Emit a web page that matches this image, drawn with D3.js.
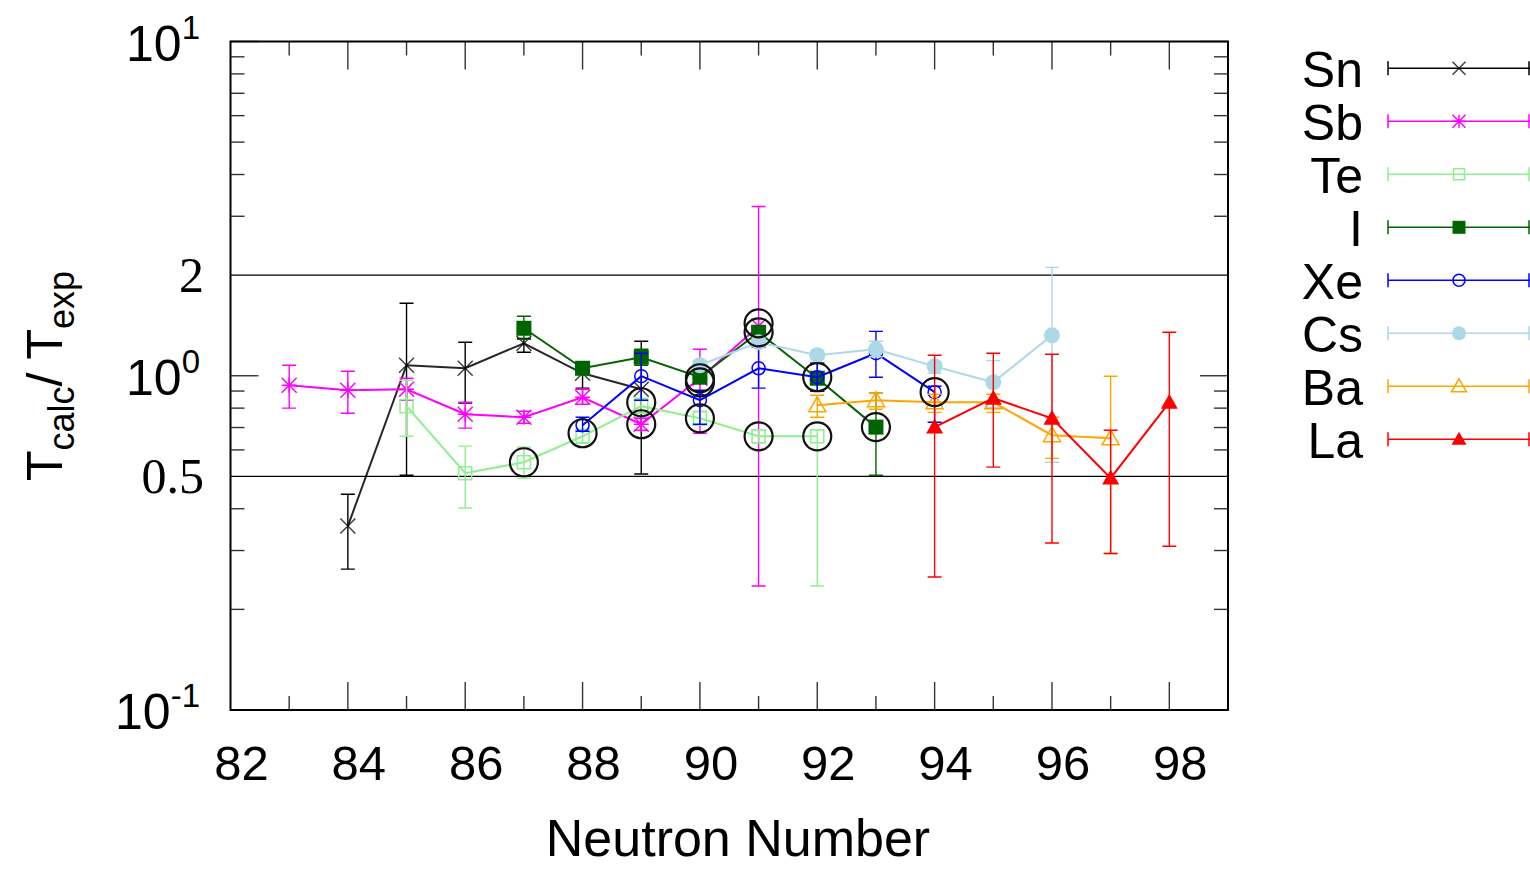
<!DOCTYPE html>
<html><head><meta charset="utf-8">
<script src="https://cdn.jsdelivr.net/npm/d3@7"></script>
<style>
html,body{margin:0;padding:0;background:#fff;}
svg{display:block;}
text{font-family:"Liberation Sans",Arial,sans-serif;fill:#000;}
</style></head><body>
<svg id="c" width="1530" height="869"></svg>
<script>
// ---------------- data ----------------
const elements = ["Sn","Sb","Te","I","Xe","Cs","Ba","La"];

const snN = [84,85,86,87,88,89];
const snRatio = [0.355,1.075,1.053,1.251,1.017,0.911];
const snLow   = [0.264,0.504,0.828,1.176,0.918,0.508];
const snHigh  = [0.442,1.647,1.260,1.294,1.053,1.268];

const sbN = [83,84,85,86,87,88,89,90,91];
const sbRatio = [0.937,0.905,0.911,0.767,0.751,0.862,0.716,0.983,1.406];
const sbLow   = [0.800,0.772,0.845,0.697,0.721,0.822,0.687,0.673,0.235];
const sbHigh  = [1.075,1.031,0.983,0.833,0.783,0.911,0.746,1.200,3.210];

const teN = [85,86,87,88,89,90,91,92];
const teRatio = [0.811,0.511,0.551,0.659,0.811,0.746,0.659,0.659];
const teLow   = [0.659,0.402,0.494,0.628,0.772,0.711,0.630,0.235];
const teHigh  = [0.969,0.616,0.611,0.692,0.856,0.783,0.690,0.690];

const iN = [87,88,89,90,91,92,93];
const iRatio = [1.387,1.053,1.136,0.990,1.349,0.983,0.702];
const iLow   = [1.286,1.020,1.075,0.960,1.310,0.899,0.504];
const iHigh  = [1.506,1.090,1.200,1.020,1.390,1.090,0.886];

const xeN = [88,89,90,91,92,93,94];
const xeRatio = [0.711,0.997,0.845,1.053,0.990,1.168,0.893];
const xeLow   = [0.682,0.845,0.716,0.918,0.899,0.990,0.726];
const xeHigh  = [0.751,1.168,0.905,1.217,1.090,1.358,0.930];

const csN = [90,91,92,93,94,95,96];
const csRatio = [1.075,1.260,1.152,1.200,1.067,0.956,1.321];
const csLow   = [1.040,1.220,1.120,1.140,1.017,0.805,0.551];
const csHigh  = [1.110,1.300,1.190,1.268,1.097,1.110,2.110];

const baN = [92,93,94,95,96,97];
const baRatio = [0.816,0.845,0.833,0.833,0.664,0.650];
const baLow   = [0.751,0.794,0.777,0.777,0.566,0.294];
const baHigh  = [0.874,0.886,0.880,0.880,0.751,0.997];

const laN = [94,95,96,97,98];
const laRatio = [0.702,0.857,0.746,0.494,0.833];
const laLow   = [0.250,0.533,0.316,0.294,0.309];
const laHigh  = [1.152,1.168,1.160,0.687,1.349];

// highlighted (circled) points
const hlN     = [87,88,89,89,90,90,90,91,91,91,92,92,93,94];
const hlRatio = [0.551,0.673,0.833,0.716,0.983,0.956,0.746,1.435,1.349,0.659,0.990,0.659,0.702,0.893];

const xTickValues = [82,84,86,88,90,92,94,96,98];
const yMajorTicks = [0.1,1,10];
const yGridValues = [0.5,2];

// ---------------- styles ----------------
const colors = {Sn:"#000000",Sb:"#ff00ff",Te:"#90ee90",I:"#006400",Xe:"#0000ff",Cs:"#add8e6",Ba:"#ffa500",La:"#ff0000"};
const markers = {Sn:"cross",Sb:"star",Te:"squareOpen",I:"squareFill",Xe:"circleOpen",Cs:"circleFill",Ba:"triOpen",La:"triFill"};

const series = [
  {name:"Sn",n:snN,v:snRatio,lo:snLow,hi:snHigh},
  {name:"Sb",n:sbN,v:sbRatio,lo:sbLow,hi:sbHigh},
  {name:"Te",n:teN,v:teRatio,lo:teLow,hi:teHigh},
  {name:"I", n:iN, v:iRatio, lo:iLow, hi:iHigh},
  {name:"Xe",n:xeN,v:xeRatio,lo:xeLow,hi:xeHigh},
  {name:"Cs",n:csN,v:csRatio,lo:csLow,hi:csHigh},
  {name:"Ba",n:baN,v:baRatio,lo:baLow,hi:baHigh},
  {name:"La",n:laN,v:laRatio,lo:laLow,hi:laHigh}
];

const L=230.5, R=1228, T=41.5, B=710;
const x = d3.scaleLinear().domain([82,99]).range([L,R]);
const y = d3.scaleLog().domain([0.1,10]).range([B,T]);

const svg = d3.select("#c");

// grid lines
svg.append("g").selectAll("line").data(yGridValues).join("line")
  .attr("x1",L).attr("x2",R).attr("y1",d=>y(d)).attr("y2",d=>y(d))
  .attr("stroke","#000").attr("stroke-width",1.4);

// ticks
const tg = svg.append("g").attr("stroke","#333").attr("stroke-width",1.4);
const xt = d3.range(83,99);
xt.forEach(v=>{
  const len = (v%2===0)?28:14;
  tg.append("line").attr("x1",x(v)).attr("x2",x(v)).attr("y1",B).attr("y2",B-len);
  tg.append("line").attr("x1",x(v)).attr("x2",x(v)).attr("y1",T).attr("y2",T+len);
});
const yt = [];
[0.1,1].forEach(dec=>{ for(let k=1;k<=9;k++){ yt.push(dec*k); } });
yt.push(10);
yt.forEach(v=>{
  const isMajor = yMajorTicks.some(m=>Math.abs(m-v)<1e-9);
  if(yGridValues.some(g=>Math.abs(g-v)<1e-9)) return;
  const len = isMajor?28:14;
  tg.append("line").attr("x1",L).attr("x2",L+len).attr("y1",y(v)).attr("y2",y(v));
  tg.append("line").attr("x1",R).attr("x2",R-len).attr("y1",y(v)).attr("y2",y(v));
});

// markers
function drawMarker(g, type, cx, cy, color, s){
  const h=s/2;
  switch(type){
    case "cross":
      g.append("path").attr("d",`M${cx-h},${cy-h}L${cx+h},${cy+h}M${cx-h},${cy+h}L${cx+h},${cy-h}`)
        .attr("stroke",color).attr("stroke-width",1.5).attr("fill","none").attr("stroke-opacity",0.75); break;
    case "star":
      g.append("path").attr("d",`M${cx-h},${cy-h}L${cx+h},${cy+h}M${cx-h},${cy+h}L${cx+h},${cy-h}M${cx},${cy-h}L${cx},${cy+h}M${cx-h},${cy}L${cx+h},${cy}`)
        .attr("stroke",color).attr("stroke-width",1.5).attr("fill","none"); break;
    case "squareOpen":
      g.append("rect").attr("x",cx-h+1).attr("y",cy-h+1).attr("width",s-2).attr("height",s-2)
        .attr("stroke",color).attr("stroke-width",1.5).attr("fill","none"); break;
    case "squareFill":
      g.append("rect").attr("x",cx-h).attr("y",cy-h).attr("width",s).attr("height",s)
        .attr("fill",color); break;
    case "circleOpen":
      g.append("circle").attr("cx",cx).attr("cy",cy).attr("r",h-0.5)
        .attr("stroke",color).attr("stroke-width",1.5).attr("fill","none"); break;
    case "circleFill":
      g.append("circle").attr("cx",cx).attr("cy",cy).attr("r",h+0.5).attr("fill",color); break;
    case "triOpen":
      g.append("path").attr("d",`M${cx},${cy-h-1}L${cx+h+1},${cy+h-1}L${cx-h-1},${cy+h-1}Z`)
        .attr("stroke",color).attr("stroke-width",1.5).attr("fill","none"); break;
    case "triFill":
      g.append("path").attr("d",`M${cx},${cy-h-1}L${cx+h+1},${cy+h-1}L${cx-h-1},${cy+h-1}Z`)
        .attr("fill",color); break;
  }
}

const line = d3.line().x(d=>x(d.n)).y(d=>y(d.v));
const cap = 7;
series.forEach(s=>{
  const col = colors[s.name];
  const pts = s.n.map((n,i)=>({n:n,v:s.v[i],lo:s.lo[i],hi:s.hi[i]}));
  const g = svg.append("g");
  const eb = g.append("g").attr("stroke",col).attr("stroke-width",1.4).attr("fill","none");
  pts.forEach(p=>{
    const px=x(p.n);
    eb.append("path").attr("d",
      `M${px},${y(p.lo)}L${px},${y(p.hi)}M${px-cap},${y(p.lo)}L${px+cap},${y(p.lo)}M${px-cap},${y(p.hi)}L${px+cap},${y(p.hi)}`);
  });
  g.append("path").datum(pts).attr("d",line).attr("stroke",col).attr("stroke-width",2)
    .attr("fill","none").attr("stroke-opacity", s.name==="Sn"?0.85:1);
  pts.forEach(p=>drawMarker(g, markers[s.name], x(p.n), y(p.v), col, s.name==="Xe"?14:15));
});

// highlight circles
svg.append("g").selectAll("circle").data(hlN.map((n,i)=>({n:n,v:hlRatio[i]}))).join("circle")
  .attr("cx",d=>x(d.n)).attr("cy",d=>y(d.v)).attr("r",14)
  .attr("fill","none").attr("stroke","#111").attr("stroke-width",2.2);

// border
svg.append("rect").attr("x",L).attr("y",T).attr("width",R-L).attr("height",B-T)
  .attr("fill","none").attr("stroke","#000").attr("stroke-width",2);

// x tick labels
svg.append("g").selectAll("text").data(xTickValues).join("text")
  .attr("x",d=>x(d)+11).attr("y",780).attr("text-anchor","middle")
  .style("font-size","49px").text(d=>d);

// x title
svg.append("text").attr("x",738).attr("y",856).attr("text-anchor","middle")
  .style("font-size","52px").text("Neutron Number");

// y tick labels: powers of ten
const yPow = [{v:10,e:"1"},{v:1,e:"0"},{v:0.1,e:"-1"}];
yPow.forEach(p=>{
  const t = svg.append("text").attr("x",200).attr("y",y(p.v)+19).attr("text-anchor","end")
    .style("font-size","50px");
  t.append("tspan").text("10");
  t.append("tspan").attr("dy",-22).style("font-size","33px").text(p.e);
});
yGridValues.forEach(v=>{
  svg.append("text").attr("x",204).attr("y",y(v)+17).attr("text-anchor","end")
    .style("font-family","'Liberation Serif','Times New Roman',serif").style("font-size","50px")
    .text(v);
});

// y title
const yt2 = svg.append("text").attr("transform","translate(62,376) rotate(-90)")
  .attr("text-anchor","middle").style("font-size","50px");
yt2.append("tspan").text("T");
yt2.append("tspan").attr("dy",12).style("font-size","36px").text("calc");
yt2.append("tspan").attr("dy",-12).text("/ T");
yt2.append("tspan").attr("dy",12).style("font-size","36px").text("exp");

// legend
const legY0 = 68.3, legDy = 53;
elements.forEach((name,i)=>{
  const cy = legY0 + i*legDy;
  const col = colors[name];
  svg.append("text").attr("x",1363).attr("y",cy+19).attr("text-anchor","end")
    .style("font-size","50px").text(name);
  const g = svg.append("g");
  g.append("path").attr("d",`M1388,${cy}L1530,${cy}M1388,${cy-7}L1388,${cy+7}M1529,${cy-7}L1529,${cy+7}`)
    .attr("stroke",col).attr("stroke-width",1.5).attr("fill","none");
  drawMarker(g, markers[name], 1459, cy, col, 13);
});
</script>
</body></html>
